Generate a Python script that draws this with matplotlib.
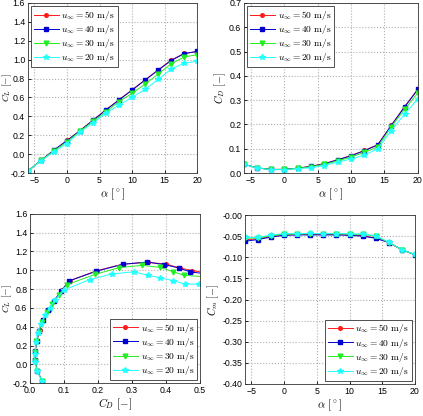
import matplotlib
matplotlib.use("Agg")
import matplotlib.pyplot as plt
import numpy as np

plt.rcParams['font.family'] = ['Liberation Sans', 'DejaVu Sans']
plt.rcParams['mathtext.fontset'] = 'cm'

alpha = [-6, -4, -2, 0, 2, 4, 6, 8, 10, 12, 14, 16, 18, 20]
labels = [r'$u_\infty = 50\ \mathrm{m/s}$', r'$u_\infty = 40\ \mathrm{m/s}$',
          r'$u_\infty = 30\ \mathrm{m/s}$', r'$u_\infty = 20\ \mathrm{m/s}$']

cl_50 = [-0.18, -0.066, 0.042, 0.145, 0.25, 0.36, 0.47, 0.575, 0.68, 0.785, 0.89, 0.995, 1.065, 1.085]
cl_40 = [-0.18, -0.066, 0.042, 0.143, 0.248, 0.357, 0.468, 0.573, 0.678, 0.783, 0.888, 0.99, 1.063, 1.087]
cl_30 = [-0.18, -0.066, 0.035, 0.13, 0.243, 0.346, 0.45, 0.556, 0.643, 0.741, 0.846, 0.955, 1.028, 1.052]
cl_20 = [-0.18, -0.07, 0.025, 0.112, 0.234, 0.33, 0.433, 0.52, 0.60, 0.685, 0.79, 0.90, 0.962, 0.983]

cd_50 = [0.036, 0.021, 0.015, 0.015, 0.020, 0.028, 0.039, 0.055, 0.072, 0.093, 0.117, 0.196, 0.273, 0.346]
cd_40 = [0.036, 0.021, 0.015, 0.015, 0.020, 0.027, 0.038, 0.054, 0.071, 0.092, 0.116, 0.195, 0.272, 0.344]
cd_30 = [0.036, 0.021, 0.015, 0.015, 0.019, 0.026, 0.036, 0.050, 0.066, 0.085, 0.108, 0.190, 0.262, 0.330]
cd_20 = [0.036, 0.020, 0.014, 0.014, 0.018, 0.022, 0.031, 0.045, 0.058, 0.074, 0.100, 0.175, 0.242, 0.306]

cm_50 = [-0.059, -0.056, -0.051, -0.047, -0.046, -0.046, -0.046, -0.046, -0.047, -0.049, -0.054, -0.065, -0.082, -0.094]
cm_40 = [-0.062, -0.058, -0.052, -0.048, -0.047, -0.047, -0.047, -0.047, -0.048, -0.050, -0.055, -0.065, -0.082, -0.094]
cm_30 = [-0.055, -0.054, -0.049, -0.045, -0.045, -0.044, -0.044, -0.044, -0.045, -0.046, -0.050, -0.065, -0.082, -0.094]
cm_20 = [-0.053, -0.053, -0.047, -0.044, -0.044, -0.0435, -0.044, -0.044, -0.044, -0.045, -0.049, -0.064, -0.082, -0.093]

# post-stall polar points (alpha > 20 deg), only visible in the drag polar
cl_50_post = [1.065, 1.025, 0.997, 0.975]
cd_50_post = [0.400, 0.440, 0.476, 0.515]
cl_40_post = [1.060, 1.025, 0.983, 0.965]
cd_40_post = [0.395, 0.437, 0.471, 0.510]
cl_30_post = [1.030, 0.986, 0.947, 0.930]
cd_30_post = [0.383, 0.420, 0.452, 0.515]
cl_20_post = [0.947, 0.920, 0.890, 0.852, 0.852]
cd_20_post = [0.346, 0.383, 0.420, 0.457, 0.496]

colors = ['#ff1a1a', '#0000d0', '#22ee22', '#22ffff']
markers = ['o', 's', 'v', '*']
msizes = [2.6, 2.6, 3.4, 4.2]

cls = [cl_50, cl_40, cl_30, cl_20]
cds = [cd_50, cd_40, cd_30, cd_20]
cms = [cm_50, cm_40, cm_30, cm_20]
cls_post = [cl_50_post, cl_40_post, cl_30_post, cl_20_post]
cds_post = [cd_50_post, cd_40_post, cd_30_post, cd_20_post]

W, H = 423, 416
fig = plt.figure(figsize=(W / 100, H / 100), dpi=100)
ax1 = fig.add_axes([0.066, 0.584, 0.400, 0.409])
ax2 = fig.add_axes([0.577, 0.584, 0.411, 0.409])
ax3 = fig.add_axes([0.071, 0.079, 0.402, 0.407])
ax4 = fig.add_axes([0.579, 0.077, 0.402, 0.406])

def style(ax):
    ax.grid(True, linestyle=':', color='#b0b0b0', linewidth=0.8)
    ax.set_axisbelow(True)
    ax.tick_params(direction='in', length=2, labelsize=6.3, width=0.6, pad=2)
    for s in ax.spines.values():
        s.set_linewidth(0.6)
        s.set_color('#333333')

def place_ylabel(ax, right_px):
    pos = ax.get_position()
    left = pos.x0 * W
    width = pos.width * W
    ax.yaxis.set_label_coords((right_px - left) / width, 0.5)

def plot_series(ax, xs, ys):
    for x, y, c, m, ms, lab in zip(xs, ys, colors, markers, msizes, labels):
        ax.plot(x, y, color=c, marker=m, markersize=ms, linewidth=0.7,
                markeredgecolor=c, label=lab, clip_on=True)

leg_kw = dict(fontsize=6.8, frameon=True, fancybox=False, edgecolor='#333333',
              handlelength=2.6, handletextpad=0.3, labelspacing=0.12,
              borderpad=0.3, borderaxespad=0.35, framealpha=1)

# CL vs alpha
plot_series(ax1, [alpha] * 4, cls)
ax1.set_xlim(-6, 20)
ax1.set_ylim(-0.2, 1.6)
ax1.set_xticks([-5, 0, 5, 10, 15, 20])
ax1.set_yticks(np.arange(-0.2, 1.61, 0.2))
ax1.set_yticklabels(['%.1f' % v for v in np.arange(-0.2, 1.61, 0.2)])
ax1.set_xlabel(r'$\alpha\ [^\circ]$', fontsize=8, labelpad=1)
ax1.set_ylabel(r'$C_L\ [-]$', fontsize=7.0)
place_ylabel(ax1, 14)
style(ax1)
ax1.legend(loc='upper left', **leg_kw).get_frame().set_linewidth(0.6)

# CD vs alpha
plot_series(ax2, [alpha] * 4, cds)
ax2.set_xlim(-6, 20)
ax2.set_ylim(0.0, 0.7)
ax2.set_xticks([-5, 0, 5, 10, 15, 20])
ax2.set_yticks(np.arange(0, 0.71, 0.1))
ax2.set_yticklabels(['%.1f' % v for v in np.arange(0, 0.71, 0.1)])
ax2.set_xlabel(r'$\alpha\ [^\circ]$', fontsize=8, labelpad=1)
ax2.set_ylabel(r'$C_D\ [-]$', fontsize=7.5, labelpad=1)
style(ax2)
ax2.legend(loc='upper left', **leg_kw).get_frame().set_linewidth(0.6)

# Drag polar
xs3 = [d + p for d, p in zip(cds, cds_post)]
ys3 = [l + p for l, p in zip(cls, cls_post)]
plot_series(ax3, xs3, ys3)
ax3.set_xlim(0.0, 0.5)
ax3.set_ylim(-0.2, 1.6)
ax3.set_xticks(np.arange(0, 0.51, 0.1))
ax3.set_xticklabels(['%.1f' % v for v in np.arange(0, 0.51, 0.1)])
ax3.set_yticks(np.arange(-0.2, 1.61, 0.2))
ax3.set_yticklabels(['%.1f' % v for v in np.arange(-0.2, 1.61, 0.2)])
ax3.set_xlabel(r'$C_D\ [-]$', fontsize=8, labelpad=1)
ax3.set_ylabel(r'$C_L\ [-]$', fontsize=7.0)
place_ylabel(ax3, 14.5)
style(ax3)
ax3.legend(loc='lower right', **leg_kw).get_frame().set_linewidth(0.6)

# Cm vs alpha
plot_series(ax4, [alpha] * 4, cms)
ax4.set_xlim(-6, 20)
ax4.set_ylim(-0.40, 0.0)
ax4.set_xticks([-5, 0, 5, 10, 15, 20])
ax4.set_yticks(np.arange(-0.40, 0.001, 0.05))
ax4.set_yticklabels(['%.2f' % v for v in np.arange(-0.40, 0.001, 0.05)])
ax4.set_xlabel(r'$\alpha\ [^\circ]$', fontsize=8, labelpad=1)
ax4.set_ylabel(r'$C_m\ [-]$', fontsize=7.5, labelpad=1)
style(ax4)
ax4.legend(loc='lower right', **leg_kw).get_frame().set_linewidth(0.6)

fig.savefig('out.png', dpi=100)
